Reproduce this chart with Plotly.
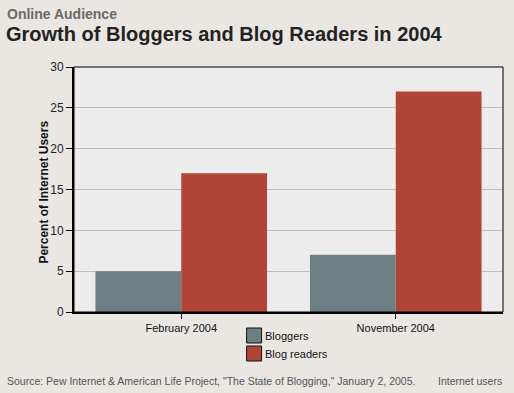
import plotly.graph_objects as go

categories = ["February 2004", "November 2004"]
bloggers = [5, 7]
blog_readers = [17, 27]
series_names = ["Bloggers", "Blog readers"]
y_ticks = [0, 5, 10, 15, 20, 25, 30]

W, H = 514, 393
L, R, T, B = 73.5, 503.5, 67, 312
pw, ph = R - L, B - T

def px(x):
    return (x - L) / pw

def py(y):
    return (B - y) / ph

c_blog = "#6E7F84"
c_read = "#B04436"
font = "Liberation Sans, Arial, sans-serif"

fig = go.Figure()
fig.add_trace(go.Bar(x=categories, y=bloggers, name=series_names[0],
                     marker=dict(color=c_blog, line=dict(width=0)), showlegend=False))
fig.add_trace(go.Bar(x=categories, y=blog_readers, name=series_names[1],
                     marker=dict(color=c_read, line=dict(width=0)), showlegend=False))

shapes = [
    dict(type="rect", xref="paper", yref="paper", x0=0, x1=1, y0=0, y1=1,
         line=dict(color="black", width=1), layer="above"),
]
annotations = [
    dict(text="<b>Online Audience</b>", x=px(4), y=py(14), xref="paper", yref="paper",
         xanchor="left", yanchor="middle", showarrow=False,
         font=dict(family=font, size=14, color="#6a6a6a")),
    dict(text="<b>Growth of Bloggers and Blog Readers in 2004</b>", x=px(3), y=py(34),
         xref="paper", yref="paper", xanchor="left", yanchor="middle", showarrow=False,
         font=dict(family=font, size=20, color="#222222")),
    dict(text="<b>Percent of Internet Users</b>", x=px(43), y=py(192), xref="paper", yref="paper",
         xanchor="center", yanchor="middle", showarrow=False, textangle=-90,
         font=dict(family=font, size=12, color="#111111")),
    dict(text="Source: Pew Internet & American Life Project, \"The State of Blogging,\" January 2, 2005.",
         x=px(4), y=py(381), xref="paper", yref="paper", xanchor="left", yanchor="middle",
         showarrow=False, font=dict(family=font, size=10.5, color="#555555")),
    dict(text="Internet users", x=px(436), y=py(381), xref="paper", yref="paper",
         xanchor="left", yanchor="middle", showarrow=False,
         font=dict(family=font, size=10.5, color="#555555")),
]
colors = [c_blog, c_read]
for i, name in enumerate(series_names):
    y0 = 328 + i * 18
    shapes.append(dict(type="rect", xref="paper", yref="paper",
                       x0=px(246.5), x1=px(261.5), y0=py(y0), y1=py(y0 + 15),
                       fillcolor=colors[i], line=dict(color="#111111", width=1)))
    annotations.append(dict(text=name, x=px(263), y=py(y0 + 7.5), xref="paper", yref="paper",
                            xanchor="left", yanchor="middle", showarrow=False,
                            font=dict(family=font, size=11, color="#111111")))

fig.update_layout(
    width=W, height=H,
    margin=dict(l=L, r=W - R, t=T, b=H - B, pad=0),
    paper_bgcolor="#EAE7E3",
    plot_bgcolor="#ECECEC",
    barmode="group", bargap=0.2, bargroupgap=0,
    showlegend=False,
    shapes=shapes, annotations=annotations,
    font=dict(family=font, size=12, color="#222222"),
    xaxis=dict(showline=True, linecolor="black", linewidth=2, ticks="outside",
               ticklen=5, tickcolor="black", tickwidth=1, showgrid=False,
               tickfont=dict(size=11, color="#111111"), fixedrange=True),
    yaxis=dict(range=[0, 30], tickvals=y_ticks, showline=True, linecolor="black",
               linewidth=2, ticks="outside", ticklen=6, tickcolor="black",
               showgrid=True, gridcolor="#BDBDBD", gridwidth=1, zeroline=False,
               tickfont=dict(size=12, color="#222222"), fixedrange=True),
)

fig.write_html("out.html", config={"displayModeBar": False},
               post_script="document.body.style.margin='0';document.body.style.background='#EAE7E3';")
